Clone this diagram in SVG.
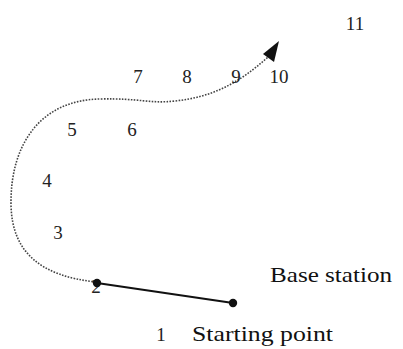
<svg xmlns="http://www.w3.org/2000/svg" width="403" height="349" viewBox="0 0 403 349">
<style>
.num{font-family:"Liberation Serif",serif;font-size:19px;fill:#222;text-anchor:middle}
.lbl{font-family:"Liberation Serif",serif;font-size:21px;fill:#111}
.path{fill:none;stroke:#444;stroke-width:1.6;stroke-dasharray:1.6 1.4}
.seg{stroke:#111;stroke-width:2.2}
.dot{fill:#111}
</style>
<rect width="403" height="349" fill="#fff"/>
<g id="connectors">
<path class="path" d="M96,282 C40,276 12,252 11,205 C10,145 40,100 100,99 C140,98 150,104 175,101 C212,97 238,84 268,57"/>
<polygon fill="#111" points="279,41 263,54 274,62"/>
<line class="seg" x1="97" y1="283" x2="233" y2="303"/>
</g>
<g id="labels">
<text class="num" x="355" y="30">11</text>
<text class="num" x="138" y="83">7</text>
<text class="num" x="187" y="83">8</text>
<text class="num" x="236" y="83">9</text>
<text class="num" x="279" y="83">10</text>
<text class="num" x="72" y="136">5</text>
<text class="num" x="132" y="136">6</text>
<text class="num" x="47" y="187">4</text>
<text class="num" x="58" y="239">3</text>
<text class="num" x="96" y="293">2</text>
<text class="num" x="161" y="341">1</text>
</g>
<g id="node-2"><circle class="dot" cx="97" cy="283" r="4.2"/></g>
<g id="node-end"><circle class="dot" cx="233" cy="303" r="4.2"/></g>
<g id="base-station"><text class="lbl" x="270" y="282" textLength="122" lengthAdjust="spacingAndGlyphs">Base station</text></g>
<g id="starting-point"><text class="lbl" x="192" y="341" textLength="141" lengthAdjust="spacingAndGlyphs">Starting point</text></g>
</svg>
